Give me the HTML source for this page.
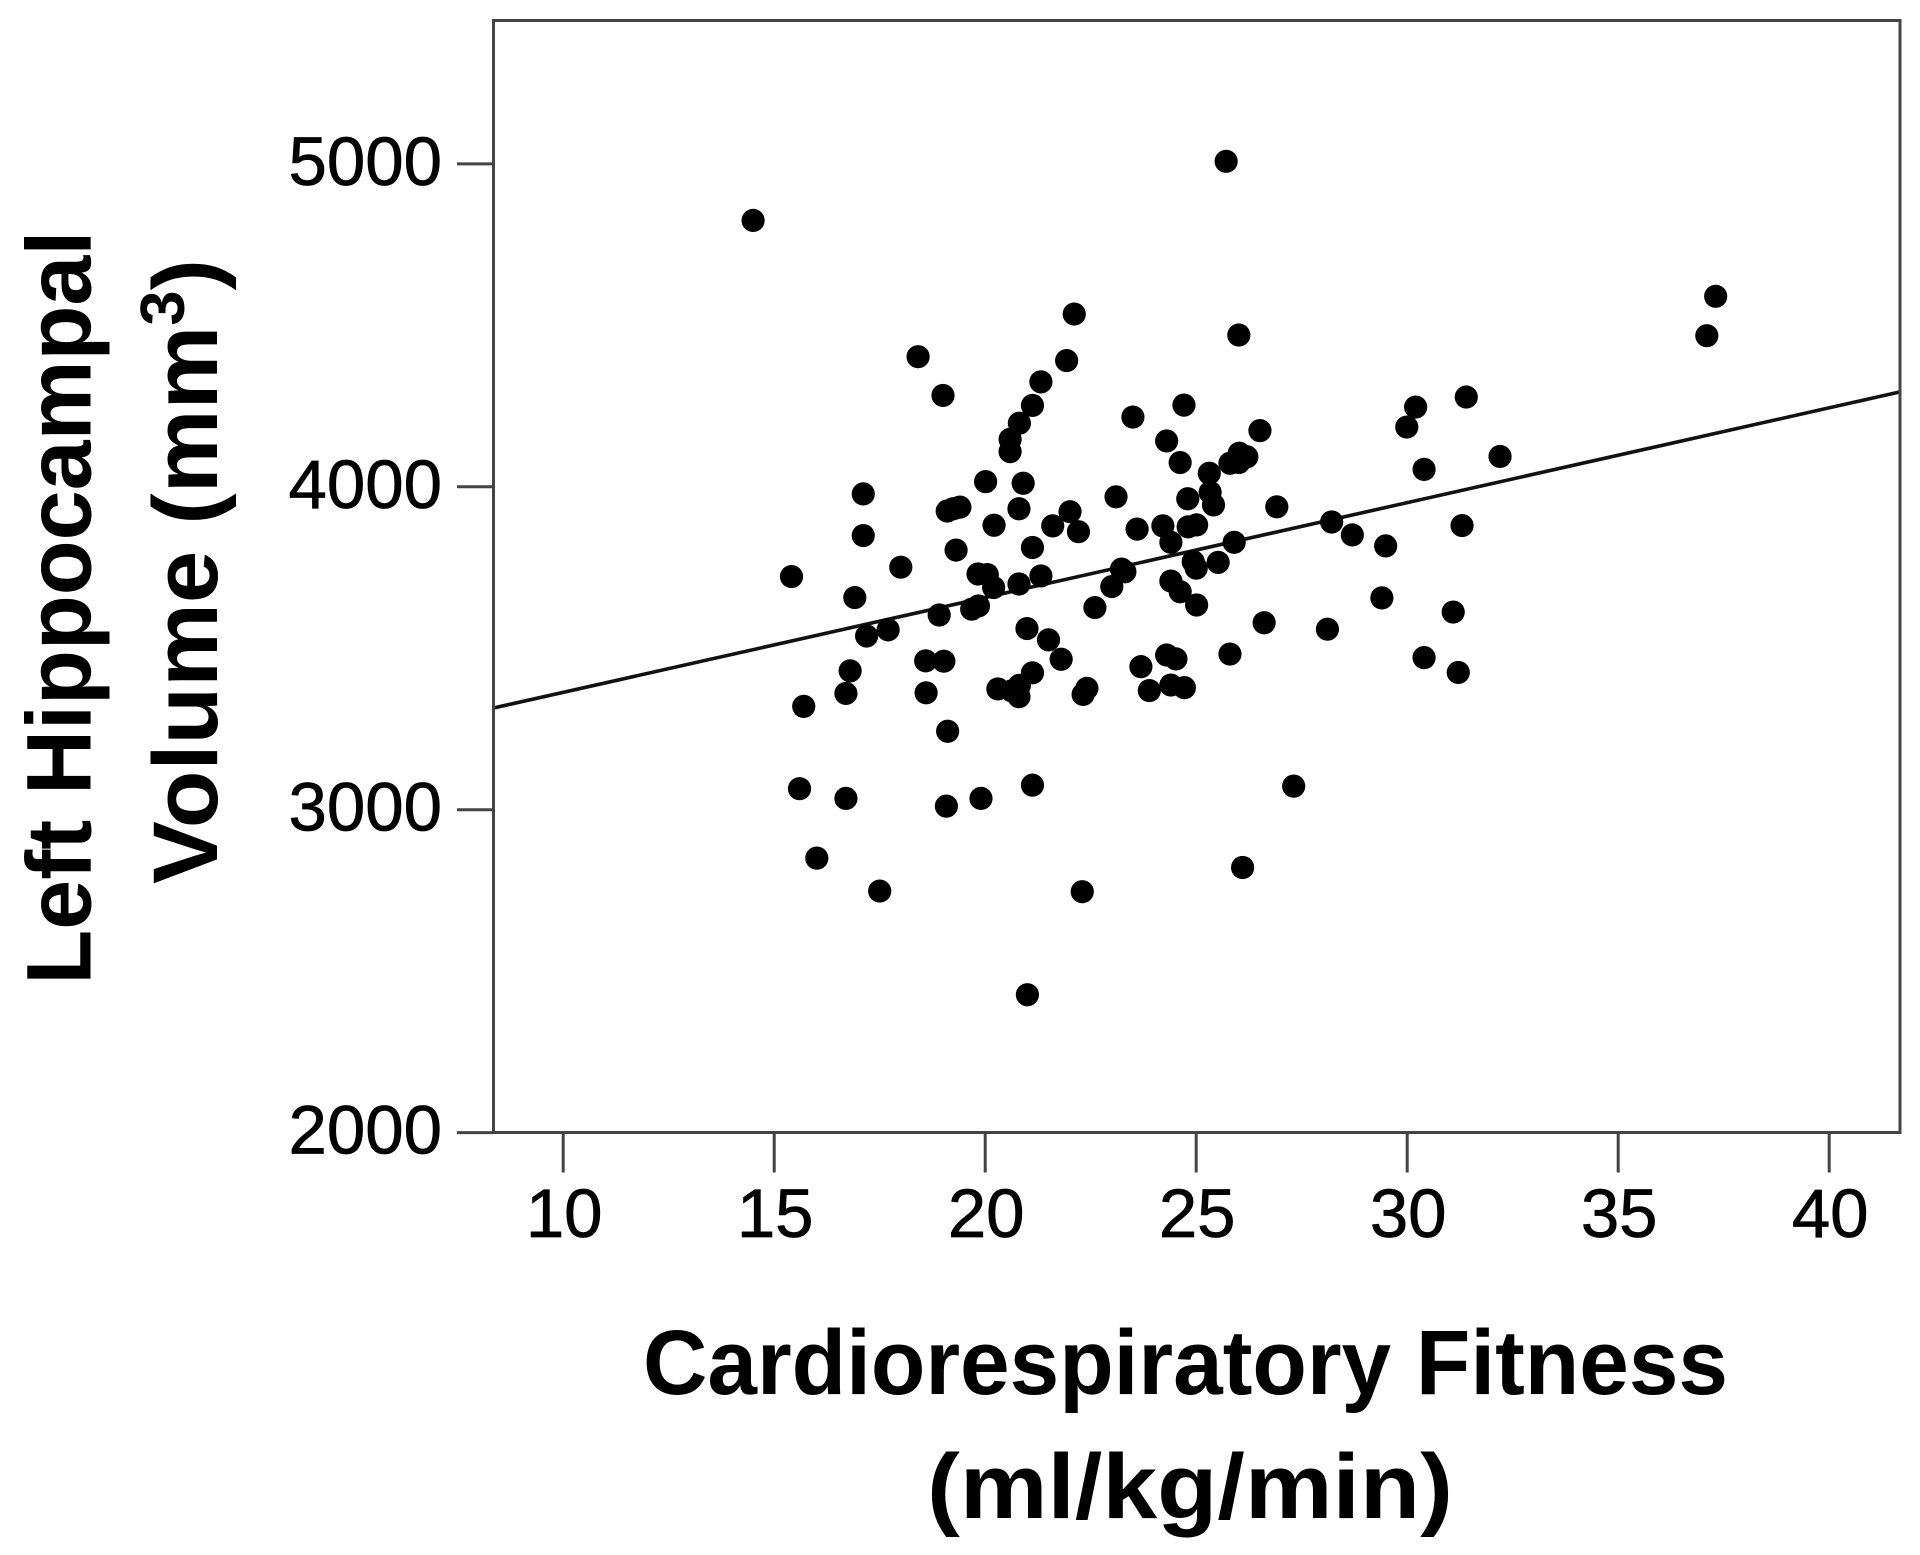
<!DOCTYPE html>
<html lang="en">
<head>
<meta charset="utf-8">
<title>Left Hippocampal Volume vs Cardiorespiratory Fitness</title>
<style>
  html, body { margin: 0; padding: 0; background: #fff; }
  body { width: 1920px; height: 1555px; overflow: hidden; }
  svg { display: block; }
  text { font-family: "Liberation Sans", sans-serif; fill: #000; }
  .title { font-weight: 700; font-size: 92px; }
</style>
</head>
<body>
<svg id="chart" xmlns="http://www.w3.org/2000/svg" width="1920" height="1555" viewBox="0 0 1920 1555">
  <rect x="0" y="0" width="1920" height="1555" fill="#fff"/>
  <g id="marks"></g>
  <g id="axes"></g>
  <rect x="493.5" y="20.5" width="1406.5" height="1112" fill="none" stroke="#444" stroke-width="3"/>
  <text class="title" text-anchor="middle" textLength="754" lengthAdjust="spacingAndGlyphs" transform="translate(90.5 607.6) rotate(-90)">Left Hippocampal</text>
  <text class="title" text-anchor="middle" textLength="625" lengthAdjust="spacingAndGlyphs" transform="translate(217 571.5) rotate(-90)">Volume (mm<tspan dy="-33" font-size="62">3</tspan><tspan dy="33">)</tspan></text>
  <text class="title" text-anchor="middle" textLength="1085" lengthAdjust="spacingAndGlyphs" x="1185.5" y="1394">Cardiorespiratory Fitness</text>
  <text class="title" text-anchor="middle" textLength="526" lengthAdjust="spacingAndGlyphs" x="1190" y="1518">(ml/kg/min)</text>
</svg>
<script>
const xTickValues = [10, 15, 20, 25, 30, 35, 40];
const yTickValues = [2000, 3000, 4000, 5000];
const fitnessValues = [
  14.50, 25.71, 22.11, 26.01, 21.93, 18.41, 21.32, 19.00, 21.12, 24.71,
  20.81, 23.50, 20.59, 20.59, 24.30, 26.51, 29.99, 30.20, 31.40, 32.20,
  30.40, 37.10, 37.31, 20.01, 20.90, 17.11, 17.11, 19.10, 19.24, 19.40,
  20.80, 20.21, 21.60, 19.31, 21.12, 18.00, 15.41, 16.91, 17.19, 17.70,
  18.91, 19.68, 19.84, 19.83, 20.05, 20.20, 20.80, 21.32, 20.99, 21.50,
  21.80, 16.80, 16.70, 15.70, 18.59, 19.02, 18.60, 21.12, 20.30, 20.81,
  20.80, 20.63, 19.11, 15.60, 16.70, 19.08, 19.90, 21.12, 27.31, 16.01,
  17.50, 22.30, 26.10, 21.00, 25.80, 26.02, 26.20, 26.01, 24.62, 25.31,
  25.33, 25.41, 24.80, 23.10, 26.91, 22.01, 22.21, 23.60, 24.21, 24.40,
  24.81, 25.01, 25.90, 28.21, 28.70, 29.49, 31.30, 25.52, 24.93, 25.00,
  23.23, 23.31, 23.00, 22.60, 24.40, 24.62, 25.01, 29.40, 31.09, 28.11,
  26.61, 25.80, 30.40, 31.21, 24.30, 24.52, 23.69, 23.89, 24.40, 24.72,
  22.41, 22.32
];
const volumeValues = [
  4825, 5008, 4535, 4470, 4391, 4403, 4325, 4283, 4252, 4253,
  4197, 4216, 4147, 4109, 4142, 4174, 4185, 4247, 4278, 4094,
  4054, 4468, 4590, 4016, 4011, 3978, 3849, 3925, 3932, 3937,
  3932, 3881, 3879, 3804, 3812, 3751, 3722, 3657, 3538, 3557,
  3603, 3621, 3631, 3730, 3728, 3688, 3699, 3724, 3561, 3526,
  3466, 3430, 3360, 3320, 3461, 3460, 3362, 3424, 3374, 3385,
  3350, 3368, 3243, 3065, 3035, 3011, 3035, 3076, 3073, 2850,
  2748, 2746, 2821, 2427, 4073, 4104, 4093, 4075, 4075, 4042,
  3983, 3944, 3963, 3969, 3938, 3923, 3861, 3869, 3879, 3828,
  3876, 3882, 3828, 3891, 3851, 3817, 3880, 3766, 3768, 3748,
  3745, 3737, 3691, 3626, 3708, 3675, 3634, 3656, 3612, 3559,
  3579, 3482, 3471, 3425, 3479, 3467, 3443, 3369, 3386, 3378,
  3376, 3357
];
const fitLineX = [8.35, 41.68];
const fitLineY = [3315, 4294];

function xScale(v) { return 563.2 + (v - 10) * 42.2; }
function yScale(v) { return 1132.6 - (v - 2000) * 0.3229; }

const NS = 'http://www.w3.org/2000/svg';
const marks = document.getElementById('marks');
const axes = document.getElementById('axes');

function make(tag, attrs, parent) {
  const el = document.createElementNS(NS, tag);
  Object.keys(attrs).forEach(function (k) { el.setAttribute(k, attrs[k]); });
  parent.appendChild(el);
  return el;
}

const fitLine = make('line', {
  x1: xScale(fitLineX[0]), y1: yScale(fitLineY[0]),
  x2: xScale(fitLineX[1]), y2: yScale(fitLineY[1]),
  stroke: '#111', 'stroke-width': 3.6
}, marks);



fitnessValues.forEach(function (v, i) {
  const dot = make('circle', { cx: xScale(v), cy: yScale(volumeValues[i]), r: 11.6, fill: '#000' }, marks);
  
  
});

xTickValues.forEach(function (v) {
  const x = xScale(v);
  const tick = make('line', { x1: x, x2: x, y1: 1132.6, y2: 1172.5, stroke: '#444', 'stroke-width': 3 }, axes);
  
  
  const label = make('text', { x: x + 1, y: 1237, 'text-anchor': 'middle', 'font-size': 69, stroke: '#000', 'stroke-width': 0.7 }, axes);
  
  
  label.textContent = String(v);
});

yTickValues.forEach(function (v) {
  const y = yScale(v);
  const tick = make('line', { x1: 457, x2: 493.5, y1: y, y2: y, stroke: '#444', 'stroke-width': 3 }, axes);
  
  
  const label = make('text', { x: 442, y: y + 21, 'text-anchor': 'end', 'font-size': 69, stroke: '#000', 'stroke-width': 0.7 }, axes);
  
  
  label.textContent = String(v);
});
</script>
</body>
</html>
